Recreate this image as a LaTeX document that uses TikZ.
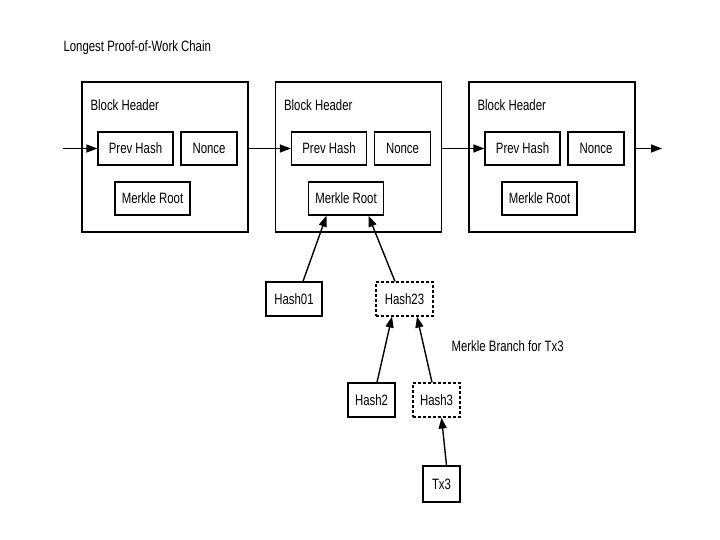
\documentclass[tikz,border=0pt]{standalone}
\usepackage{fontspec}
\setmainfont[FakeStretch=0.76]{Liberation Sans}
\usepackage{tikz}
\usetikzlibrary{arrows.meta}

\begin{document}
\begin{tikzpicture}[x=1pt,y=-1pt,font=\fontsize{15}{17}\selectfont,
  box/.style={draw,line width=1.3pt,inner sep=0pt,minimum height=33pt},
  branchbox/.style={box,densely dashed,line width=1.1pt},
  link/.style={line width=1.4pt,-{Triangle[length=11pt,width=8pt]}}]
\useasboundingbox (0,0) rectangle (720,540);

% Title
\node[anchor=west] (title) at (60,48) {Longest Proof-of-Work Chain};

% Blocks of the chain
\foreach \i in {1,2,3} {
  \begin{scope}[xshift={(\i-1)*193.5}]
    \node[draw,line width=1.4pt,minimum width=166pt,minimum height=150pt] (blk\i) at (165,157) {};
    \node[anchor=west] (head\i) at (87,105) {Block Header};
    \node[box,minimum width=75pt] (prev\i) at (135.5,148.5) {Prev Hash};
    \node[box,minimum width=56pt] (nonce\i) at (209,148.5) {Nonce};
    \node[box,minimum width=75pt] (root\i) at (152.5,198.5) {Merkle Root};
  \end{scope}
}

% Chain links
\coordinate (start) at (63,148.5);
\coordinate (stop) at (662,148.5);
\draw[link] (start) -- (prev1.west);
\draw[link] (blk1.east |- prev1.west) -- (prev2.west);
\draw[link] (blk2.east |- prev2.west) -- (prev3.west);
\draw[link] (blk3.east |- prev3.west) -- (stop);

% Merkle tree below block 2
\node[box,minimum width=56pt,minimum height=34pt] (hash01) at (294,299) {Hash01};
\node[branchbox,minimum width=57pt,minimum height=34pt] (hash23) at (404.5,299) {Hash23};
\node[box,minimum width=47pt,minimum height=34pt] (hash2) at (371.5,400) {Hash2};
\node[branchbox,minimum width=47pt,minimum height=34pt] (hash3) at (436.5,400) {Hash3};
\node[box,minimum width=37pt,minimum height=36pt] (tx3) at (441.5,484) {Tx3};

\draw[link] ([xshift=9pt]hash01.north) -- ([xshift=-19.5pt]root2.south);
\draw[link] ([xshift=-9.5pt]hash23.north) -- ([xshift=22.5pt]root2.south);
\draw[link] ([xshift=5.5pt]hash2.north) -- ([xshift=-12.5pt]hash23.south);
\draw[link] ([xshift=-4.5pt]hash3.north) -- ([xshift=12.5pt]hash23.south);
\draw[link] ([xshift=5pt]tx3.north) -- (tx3.north |- hash3.south);

% Labels
\node[anchor=west] (branch) at (448,346) {Merkle Branch for Tx3};

\end{tikzpicture}
\end{document}
